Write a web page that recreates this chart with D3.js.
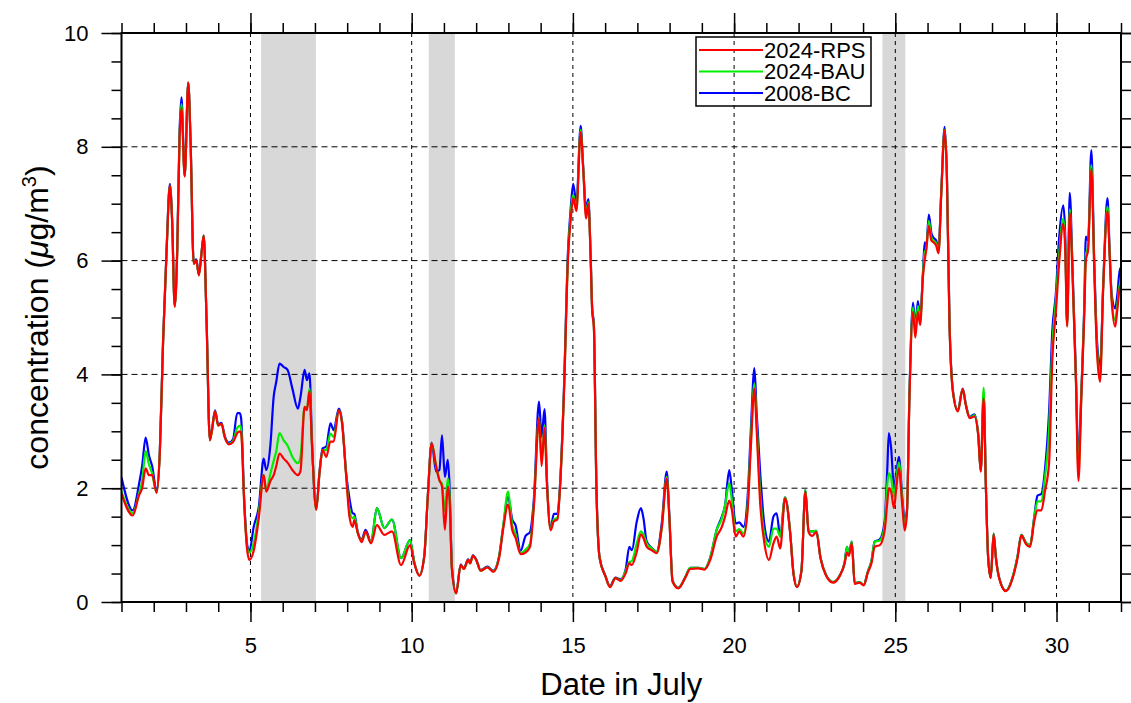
<!DOCTYPE html>
<html>
<head>
<meta charset="utf-8">
<title>Concentration in July</title>
<style>
  body { margin: 0; background: #fff; }
  svg text { font-family: "Liberation Sans", Arial, Helvetica, sans-serif; fill: #000; }
  .axis line { stroke: #000; stroke-width: 1.5px; }
  .axis text { font-size: 22px; }
  .series { fill: none; stroke-width: 2.2px; stroke-linejoin: round; }
</style>
</head>
<body>
<div id="chart"></div>
<script src="https://cdn.jsdelivr.net/npm/d3@7"></script>
<script>
// time in days of July (fractional)
var days = [
  1.00,1.35,1.54,1.64,1.75,1.85,1.95,2.09,2.19,2.29,
  2.40,2.50,2.57,2.65,2.73,2.80,2.86,2.96,3.07,3.14,
  3.24,3.32,3.40,3.47,3.55,3.64,3.74,3.81,3.90,4.00,
  4.10,4.20,4.33,4.46,4.59,4.67,4.71,4.81,4.90,4.97,
  5.10,5.26,5.41,5.49,5.62,5.72,5.80,5.90,6.03,6.15,
  6.30,6.47,6.55,6.68,6.75,6.83,6.91,7.04,7.14,7.24,
  7.35,7.48,7.58,7.74,7.84,7.97,8.07,8.17,8.22,8.33,
  8.45,8.57,8.74,8.92,9.15,9.39,9.67,9.95,10.08,10.24,
  10.39,10.50,10.62,10.76,10.86,10.94,11.03,11.12,11.17,11.25,
  11.38,11.52,11.62,11.75,11.81,11.90,12.00,12.14,12.35,12.53,
  12.71,12.84,12.99,13.12,13.22,13.38,13.53,13.67,13.79,13.95,
  14.03,14.12,14.20,14.31,14.41,14.52,14.60,14.72,14.85,14.93,
  15.01,15.11,15.24,15.32,15.41,15.48,15.55,15.60,15.65,15.73,
  15.83,16.01,16.15,16.32,16.48,16.64,16.75,16.83,16.98,17.11,
  17.19,17.29,17.45,17.60,17.76,17.91,17.99,18.09,18.27,18.48,
  18.64,18.90,19.08,19.26,19.46,19.62,19.72,19.85,19.93,20.05,
  20.16,20.29,20.42,20.52,20.63,20.70,20.81,20.94,21.08,21.22,
  21.32,21.43,21.58,21.74,21.84,21.95,22.09,22.21,22.31,22.42,
  22.55,22.68,22.84,23.07,23.27,23.43,23.50,23.56,23.65,23.74,
  23.89,24.02,24.15,24.26,24.36,24.52,24.67,24.75,24.80,24.87,
  24.96,25.03,25.11,25.22,25.29,25.36,25.44,25.55,25.62,25.70,
  25.77,25.86,25.91,25.96,26.04,26.12,26.19,26.27,26.34,26.43,
  26.53,26.60,26.68,26.79,26.94,27.09,27.19,27.31,27.45,27.57,
  27.65,27.74,27.81,27.88,27.96,28.05,28.12,28.22,28.43,28.64,
  28.79,28.91,29.05,29.18,29.31,29.41,29.53,29.64,29.77,29.87,
  29.98,30.08,30.21,30.27,30.33,30.41,30.49,30.60,30.68,30.77,
  30.86,30.91,30.98,31.08,31.17,31.25,31.35,31.45,31.58,31.65,
  31.71,31.82,31.89,31.97,32.00
];

var rps = [
  1.90,1.52,1.87,2.00,2.35,2.23,2.23,1.92,2.65,4.58,
  6.19,7.32,6.70,5.19,6.19,8.13,8.68,7.48,9.13,8.13,
  5.94,6.00,5.74,6.06,6.44,4.90,2.84,3.03,3.35,3.10,
  3.13,2.90,2.77,2.81,2.97,3.00,2.97,1.68,0.90,0.74,
  0.90,1.48,2.23,1.94,2.13,2.23,2.39,2.61,2.52,2.45,
  2.32,2.23,2.30,3.43,3.37,3.70,2.73,1.62,2.26,2.67,
  2.55,2.82,2.82,3.37,3.14,2.20,1.50,1.32,1.44,1.21,
  1.05,1.24,1.03,1.35,1.18,1.24,0.65,1.00,0.68,0.46,
  0.80,1.85,2.79,2.38,2.14,2.03,1.27,2.03,1.85,0.56,
  0.15,0.65,0.58,0.74,0.68,0.81,0.74,0.55,0.61,0.53,
  0.77,1.29,1.71,1.26,1.13,0.84,0.87,0.97,1.68,3.23,
  2.39,3.06,2.00,1.26,1.42,1.45,2.00,3.61,6.06,6.71,
  7.10,6.87,8.26,7.61,6.74,7.00,6.06,5.10,4.84,2.00,
  0.77,0.45,0.26,0.42,0.37,0.51,0.68,0.65,0.88,1.19,
  1.12,0.97,0.91,0.86,1.32,2.17,1.50,0.36,0.24,0.42,
  0.58,0.59,0.57,0.74,1.15,1.32,1.50,1.78,1.62,1.15,
  1.24,1.15,1.62,2.73,3.75,3.02,1.73,1.03,0.74,1.03,
  1.15,0.94,1.82,1.20,0.50,0.26,0.55,1.94,1.23,1.16,
  1.23,0.77,0.48,0.34,0.45,0.68,0.87,0.81,1.03,0.32,
  0.34,0.29,0.52,0.68,0.97,1.00,1.26,1.74,2.00,1.94,
  1.65,2.00,2.35,1.68,1.26,1.55,3.61,5.10,4.65,5.10,
  4.87,5.74,6.00,6.19,6.61,6.35,6.32,6.26,6.13,7.23,
  8.29,7.48,4.90,3.68,3.35,3.74,3.45,3.23,3.26,2.94,
  2.29,3.58,2.00,0.77,0.42,1.19,0.77,0.42,0.19,0.42,
  0.77,1.17,1.02,0.97,1.42,1.61,1.61,1.94,2.45,4.26,
  5.10,5.94,6.65,6.19,4.84,6.84,5.87,3.94,2.13,3.61,
  5.03,6.00,6.19,7.61,5.87,4.45,3.87,5.55,6.87,6.06,
  5.29,4.84,5.16,5.55,5.50
];

var bau = [
  1.94,1.56,1.90,2.13,2.65,2.42,2.26,1.92,2.65,4.58,
  6.19,7.32,6.70,5.19,6.19,8.15,8.75,7.48,9.13,8.13,
  5.94,6.00,5.74,6.06,6.44,4.90,2.84,3.03,3.35,3.10,
  3.13,2.90,2.78,2.83,3.06,3.10,3.05,1.70,0.95,0.87,
  1.03,1.58,2.23,1.97,2.26,2.48,2.65,2.97,2.84,2.75,
  2.55,2.44,2.55,3.43,3.40,3.75,2.75,1.62,2.26,2.67,
  2.67,2.96,2.90,3.37,3.16,2.22,1.62,1.47,1.50,1.21,
  1.08,1.22,1.05,1.65,1.30,1.45,0.77,1.09,0.70,0.47,
  0.80,1.85,2.79,2.38,2.14,2.08,1.60,2.17,1.95,0.58,
  0.15,0.65,0.58,0.74,0.68,0.81,0.74,0.55,0.61,0.54,
  0.80,1.35,1.94,1.35,1.20,0.86,0.92,1.02,1.72,3.23,
  2.50,3.10,2.05,1.28,1.45,1.48,2.02,3.63,6.10,6.80,
  7.15,6.90,8.30,7.63,6.80,7.03,6.08,5.12,4.85,2.00,
  0.77,0.45,0.27,0.42,0.38,0.55,0.70,0.72,1.03,1.24,
  1.18,1.03,0.94,0.88,1.32,2.20,1.52,0.37,0.25,0.43,
  0.60,0.60,0.58,0.78,1.27,1.47,1.70,2.09,1.79,1.24,
  1.28,1.20,1.70,2.85,3.84,3.15,1.90,1.18,0.97,1.29,
  1.29,1.15,1.84,1.22,0.52,0.27,0.56,1.97,1.25,1.24,
  1.25,0.78,0.49,0.35,0.46,0.70,0.97,0.85,1.06,0.33,
  0.35,0.30,0.54,0.72,1.06,1.08,1.35,2.06,2.26,2.19,
  1.85,2.15,2.45,1.75,1.35,1.58,3.65,5.18,4.75,5.20,
  4.95,5.78,6.15,6.20,6.70,6.40,6.35,6.30,6.15,7.25,
  8.30,7.50,4.92,3.69,3.36,3.74,3.46,3.24,3.28,2.95,
  2.30,3.77,2.02,0.78,0.43,1.20,0.78,0.43,0.20,0.44,
  0.80,1.18,1.04,1.00,1.48,1.77,1.77,2.19,3.03,4.50,
  5.30,6.10,6.74,6.30,4.86,6.90,5.90,3.96,2.30,3.65,
  5.10,6.10,6.25,7.68,5.90,4.55,3.97,5.58,6.95,6.10,
  5.35,4.95,5.25,5.61,5.60
];

var bc = [
  2.19,1.61,2.06,2.39,2.89,2.58,2.39,1.95,2.66,4.60,
  6.22,7.35,6.72,5.21,6.25,8.25,8.87,7.50,9.13,8.15,
  5.96,6.02,5.76,6.08,6.44,4.92,2.86,3.05,3.37,3.12,
  3.15,2.92,2.80,2.86,3.32,3.32,3.23,1.75,1.00,0.90,
  1.32,1.68,2.52,2.32,2.77,3.61,3.87,4.19,4.13,4.08,
  3.75,3.40,3.60,4.08,3.90,4.02,2.78,1.64,2.28,2.70,
  2.73,3.14,3.02,3.40,3.18,2.25,1.82,1.56,1.55,1.22,
  1.10,1.27,1.05,1.65,1.30,1.45,0.77,1.09,0.70,0.47,
  0.81,1.86,2.80,2.29,2.32,2.93,2.20,2.50,2.10,0.60,
  0.16,0.66,0.59,0.75,0.69,0.82,0.75,0.56,0.62,0.55,
  0.80,1.33,1.85,1.45,1.35,0.90,1.16,1.23,1.81,3.52,
  2.90,3.39,2.10,1.30,1.55,1.55,2.05,3.70,6.20,6.90,
  7.35,7.00,8.37,7.65,6.90,7.08,6.10,5.15,4.90,2.02,
  0.78,0.46,0.28,0.43,0.40,0.58,0.97,0.91,1.41,1.65,
  1.47,1.06,0.95,0.88,1.40,2.29,1.55,0.38,0.25,0.43,
  0.60,0.60,0.58,0.78,1.27,1.50,1.70,2.32,1.97,1.38,
  1.40,1.32,1.85,3.02,4.11,3.32,2.26,1.35,1.06,1.50,
  1.56,1.15,1.84,1.22,0.52,0.27,0.56,1.97,1.25,1.24,
  1.25,0.78,0.49,0.35,0.46,0.70,0.97,0.85,1.06,0.33,
  0.35,0.30,0.54,0.72,1.06,1.10,1.42,2.32,2.97,2.71,
  2.00,2.26,2.55,1.81,1.45,1.60,3.70,5.26,4.84,5.29,
  5.00,5.82,6.32,6.25,6.81,6.48,6.40,6.35,6.20,7.28,
  8.35,7.52,4.95,3.70,3.37,3.75,3.47,3.25,3.30,2.96,
  2.31,3.65,2.02,0.78,0.43,1.20,0.78,0.43,0.20,0.44,
  0.80,1.18,1.04,1.00,1.50,1.87,1.90,2.32,3.35,4.77,
  5.42,6.39,6.97,6.45,4.88,7.19,6.00,4.00,2.52,3.70,
  5.20,6.42,6.35,7.94,6.00,4.65,4.13,5.60,7.10,6.15,
  5.42,5.16,5.42,5.87,5.80
];

// shaded periods [start, end] in days
var shadeStart = [5.33, 10.53, 24.60];
var shadeEnd   = [7.03, 11.34, 25.31];

var seriesNames  = ["2024-RPS", "2024-BAU", "2008-BC"];
var seriesColors = ["#ff0000", "#00ee00", "#0000ff"];
var seriesValues = [rps, bau, bc];

var xMajor = [5, 10, 15, 20, 25, 30];
var xMinor = d3.range(1, 33);
var yMajor = [0, 2, 4, 6, 8, 10];
var yMinor = d3.range(0, 10.01, 0.5);
var yGrid  = [2, 4, 6, 8];

(function() {
  var W = 1131, H = 703;
  var pL = 121.5, pR = 1121, pT = 33, pB = 602;

  var svg = d3.select("#chart").append("svg")
    .attr("width", W)
    .attr("height", H);

  var x = d3.scaleLinear().domain([1, 32]).range([pL, pR]);
  var y = d3.scaleLinear().domain([0, 10]).range([pB, pT]);

  svg.append("defs").append("clipPath").attr("id", "plotclip")
    .append("rect")
    .attr("x", pL).attr("y", pT)
    .attr("width", pR - pL).attr("height", pB - pT);

  // shaded bands
  svg.append("g").selectAll("rect")
    .data(shadeStart)
    .enter().append("rect")
    .attr("x", function(d) { return x(d); })
    .attr("y", pT)
    .attr("width", function(d, i) { return x(shadeEnd[i]) - x(d); })
    .attr("height", pB - pT)
    .attr("fill", "#d8d8d8");

  // grid
  svg.append("g").selectAll("line")
    .data(yGrid)
    .enter().append("line")
    .attr("x1", pL).attr("x2", pR)
    .attr("y1", function(d) { return y(d); })
    .attr("y2", function(d) { return y(d); })
    .attr("stroke", "#000")
    .attr("stroke-width", 1)
    .attr("stroke-dasharray", "6,4");

  svg.append("g").selectAll("line")
    .data(xMajor)
    .enter().append("line")
    .attr("y1", pT).attr("y2", pB)
    .attr("x1", function(d) { return x(d); })
    .attr("x2", function(d) { return x(d); })
    .attr("stroke", "#000")
    .attr("stroke-width", 1)
    .attr("stroke-dasharray", "4,4");

  // series, blue underneath, red on top
  var line = d3.line()
    .x(function(d, i) { return x(days[i]); })
    .y(function(d) { return y(d); })
    .curve(d3.curveMonotoneX);

  var plot = svg.append("g").attr("clip-path", "url(#plotclip)");
  [2, 1, 0].forEach(function(k) {
    plot.append("path")
      .attr("class", "series")
      .attr("d", line(seriesValues[k]))
      .attr("stroke", seriesColors[k]);
  });

  // axes
  function drawAxis(axis, tf) {
    var g = svg.append("g").attr("class", "axis").attr("transform", tf).call(axis);
    g.select(".domain").remove();
    return g;
  }

  drawAxis(d3.axisBottom(x).tickValues(xMinor).tickSize(10).tickFormat(""), "translate(0," + pB + ")");
  drawAxis(d3.axisBottom(x).tickValues(xMajor).tickSize(20).tickPadding(15).tickFormat(d3.format("d")), "translate(0," + pB + ")");
  drawAxis(d3.axisTop(x).tickValues(xMinor).tickSize(10).tickFormat(""), "translate(0," + pT + ")");
  drawAxis(d3.axisTop(x).tickValues(xMajor).tickSize(20).tickFormat(""), "translate(0," + pT + ")");

  drawAxis(d3.axisLeft(y).tickValues(yMinor).tickSize(10).tickFormat(""), "translate(" + pL + ",0)");
  drawAxis(d3.axisLeft(y).tickValues(yMajor).tickSize(20).tickPadding(13).tickFormat(d3.format("d")), "translate(" + pL + ",0)");
  drawAxis(d3.axisRight(y).tickValues(yMinor).tickSize(10).tickFormat(""), "translate(" + pR + ",0)");
  drawAxis(d3.axisRight(y).tickValues(yMajor).tickSize(20).tickFormat(""), "translate(" + pR + ",0)");

  // frame
  svg.append("rect")
    .attr("x", pL).attr("y", pT)
    .attr("width", pR - pL).attr("height", pB - pT)
    .attr("fill", "none")
    .attr("stroke", "#000")
    .attr("stroke-width", 2);

  // axis titles
  svg.append("text")
    .attr("x", (pL + pR) / 2)
    .attr("y", 695)
    .attr("text-anchor", "middle")
    .attr("font-size", "31px")
    .text("Date in July");

  var yt = svg.append("text")
    .attr("transform", "translate(48," + (pT + pB) / 2 + ") rotate(-90)")
    .attr("text-anchor", "middle")
    .attr("font-size", "32px");
  yt.append("tspan").text("concentration (");
  yt.append("tspan").attr("font-style", "italic").text("\u03bc");
  yt.append("tspan").text("g/m");
  yt.append("tspan").attr("font-size", "20px").attr("dy", "-12").text("3");
  yt.append("tspan").attr("dy", "12").text(")");

  // legend
  var legend = svg.append("g");
  legend.append("rect")
    .attr("x", 696).attr("y", 37)
    .attr("width", 175).attr("height", 69)
    .attr("fill", "none")
    .attr("stroke", "#000")
    .attr("stroke-width", 1.5);

  var rows = legend.selectAll("g.row")
    .data(seriesNames)
    .enter().append("g")
    .attr("class", "row")
    .attr("transform", function(d, i) { return "translate(0," + (50 + i * 21.5) + ")"; });

  rows.append("line")
    .attr("x1", 699).attr("x2", 763)
    .attr("stroke", function(d, i) { return seriesColors[i]; })
    .attr("stroke-width", 2);

  rows.append("text")
    .attr("x", 764)
    .attr("dy", "0.36em")
    .attr("font-size", "22px")
    .text(function(d) { return d; });
})();
</script>
</body>
</html>
